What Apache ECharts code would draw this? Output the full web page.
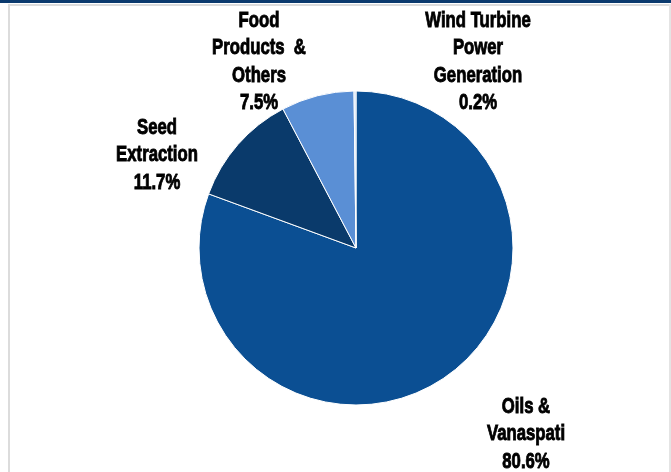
<!DOCTYPE html>
<html>
<head>
<meta charset="utf-8">
<script src="https://cdn.jsdelivr.net/npm/echarts@6/dist/echarts.min.js"></script>
<style>
  html, body { margin: 0; padding: 0; background: #ffffff; }
  #chart { width: 671px; height: 472px; }
</style>
</head>
<body>
<div id="chart"></div>
<script>
// Revenue split by segment
const categories = ['Oils &\nVanaspati', 'Seed\nExtraction', 'Food\nProducts  &\nOthers', 'Wind Turbine\nPower\nGeneration'];
const shares = [80.6, 11.7, 7.5, 0.2];
const sliceColors = ['#0b4f93', '#0a3a6b', '#5a8fd5', '#c9dbf2'];

// Where each segment's caption sits (centre of the text block)
const captionAnchors = [
  { x: 526, y: 434 },
  { x: 157, y: 155 },
  { x: 259, y: 62 },
  { x: 478, y: 62 }
];

const chart = echarts.init(document.getElementById('chart'), null, { renderer: 'canvas' });

// Captions use a tall, heavy condensed face: a bold sans squeezed horizontally
const captions = categories.map((name, i) => ({
  type: 'text',
  x: captionAnchors[i].x,
  y: captionAnchors[i].y,
  scaleX: 0.76,
  silent: true,
  z: 10,
  style: {
    text: name + '\n' + shares[i].toFixed(1) + '%',
    fontFamily: '"Liberation Sans", Arial, sans-serif',
    fontWeight: 'bold',
    fontSize: 22,
    lineHeight: 27.5,
    fill: '#000000',
    stroke: '#000000',
    lineWidth: 0.9,
    align: 'center',
    verticalAlign: 'middle'
  }
}));

chart.setOption({
  backgroundColor: '#ffffff',
  animation: false,
  graphic: [
    { type: 'rect', shape: { x: 0, y: 0, width: 671, height: 3 }, style: { fill: '#0b3a6e' }, silent: true },
    { type: 'rect', shape: { x: 8, y: 4, width: 663, height: 2 }, style: { fill: '#dcdcdc' }, silent: true },
    { type: 'rect', shape: { x: 8, y: 4, width: 2, height: 468 }, style: { fill: '#dcdcdc' }, silent: true },
    { type: 'rect', shape: { x: 669, y: 4, width: 2, height: 468 }, style: { fill: '#e4e4e4' }, silent: true }
  ].concat(captions),
  series: [{
    type: 'pie',
    center: [356, 248],
    radius: 157,
    startAngle: 90,
    clockwise: true,
    avoidLabelOverlap: false,
    itemStyle: { borderColor: '#ffffff', borderWidth: 1 },
    label: { show: false },
    labelLine: { show: false },
    data: categories.map((name, i) => ({
      name: name.replace(/\s+/g, ' '),
      value: shares[i],
      itemStyle: { color: sliceColors[i] }
    }))
  }]
});
</script>
</body>
</html>
